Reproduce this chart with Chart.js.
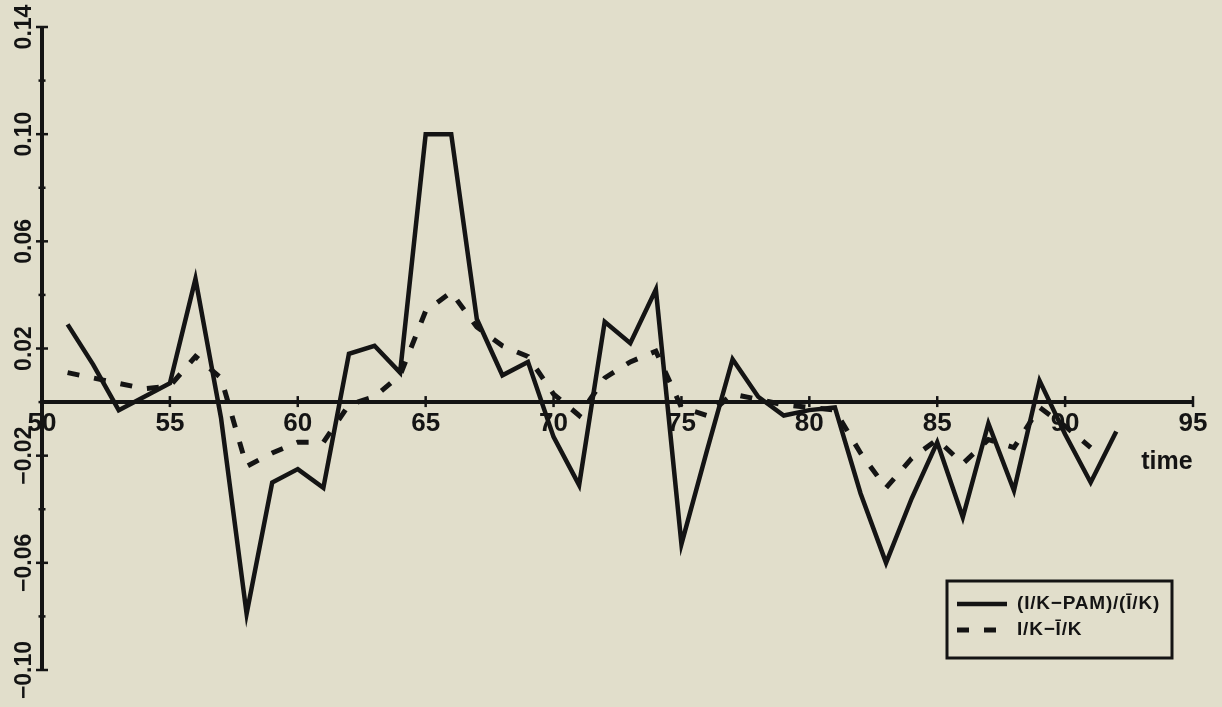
<!DOCTYPE html>
<html>
<head>
<meta charset="utf-8">
<title>I/K deviations over time</title>
<script src="https://cdn.jsdelivr.net/npm/chart.js@4/dist/chart.umd.min.js"></script>
<style>
  html, body { margin: 0; padding: 0; background: #e1decb; }
  #wrap { position: relative; width: 1222px; height: 707px; }
</style>
</head>
<body>
<div id="wrap"><canvas id="chart"></canvas></div>
<script>
// Years on the horizontal axis
const years = [51, 52, 53, 54, 55, 56, 57, 58, 59, 60,
               61, 62, 63, 64, 65, 66, 67, 68, 69, 70,
               71, 72, 73, 74, 75, 76, 77, 78, 79, 80,
               81, 82, 83, 84, 85, 86, 87, 88, 89, 90,
               91, 92];

// (I/K - PAM) / (mean I/K), solid line
const relDeviation = [0.029, 0.014, -0.003, 0.002, 0.007, 0.046, -0.006, -0.079, -0.030, -0.025,
                      -0.032, 0.018, 0.021, 0.011, 0.100, 0.100, 0.031, 0.010, 0.015, -0.013,
                      -0.031, 0.030, 0.022, 0.042, -0.053, -0.018, 0.016, 0.002, -0.005, -0.003,
                      -0.002, -0.034, -0.060, -0.036, -0.015, -0.043, -0.008, -0.033, 0.008, -0.012,
                      -0.030, -0.011];

// I/K - mean I/K, dashed line (ends one year earlier)
const absDeviation = [0.011, 0.009, 0.007, 0.005, 0.006, 0.017, 0.009, -0.024, -0.019, -0.015,
                      -0.015, -0.001, 0.002, 0.010, 0.034, 0.041, 0.028, 0.021, 0.017, 0.003,
                      -0.005, 0.009, 0.015, 0.019, -0.002, -0.005, 0.003, 0.001, -0.001, -0.002,
                      -0.003, -0.019, -0.032, -0.021, -0.014, -0.023, -0.014, -0.017, -0.002, -0.009,
                      -0.017];

const seriesNames = ['(I/K\u2212PAM)/(\u012A/K)', 'I/K\u2212\u012A/K'];

// Axis ticks and their labels
const xTicks = [50, 55, 60, 65, 70, 75, 80, 85, 90, 95];
const xTickLabels = ['50', '55', '60', '65', '70', '75', '80', '85', '90', '95'];
const yTicks = [-0.10, -0.08, -0.06, -0.04, -0.02, 0, 0.02, 0.04, 0.06, 0.08, 0.10, 0.12, 0.14];
const yMajorTicks = [-0.10, -0.06, -0.02, 0.02, 0.06, 0.10, 0.14];
const yTickLabels = ['\u22120.10', '\u22120.06', '\u22120.02', '0.02', '0.06', '0.10', '0.14'];
const xTitle = 'time';

const INK = '#141414';
const PAPER = '#e1decb';

function toPoints(xs, ys) {
  return ys.map((v, i) => ({ x: xs[i], y: v }));
}

// Paper background
const paperPlugin = {
  id: 'paper',
  beforeDraw(chart) {
    const { ctx, width, height } = chart;
    ctx.save();
    ctx.fillStyle = PAPER;
    ctx.fillRect(0, 0, width, height);
    ctx.restore();
  }
};

// Axes crossing at (50, 0) with ticks running through the axis lines
const crossAxesPlugin = {
  id: 'crossAxes',
  beforeDatasetsDraw(chart) {
    const { ctx, scales: { x, y } } = chart;
    const ax = x.getPixelForValue(xTicks[0]);
    const ay = y.getPixelForValue(0);
    const xEnd = x.getPixelForValue(xTicks[xTicks.length - 1]);
    const yTop = y.getPixelForValue(yTicks[yTicks.length - 1]);
    const yBot = y.getPixelForValue(yTicks[0]);

    ctx.save();
    ctx.strokeStyle = INK;
    ctx.fillStyle = INK;
    ctx.lineCap = 'butt';

    // axis lines
    ctx.lineWidth = 4;
    ctx.beginPath();
    ctx.moveTo(ax, yTop);
    ctx.lineTo(ax, yBot);
    ctx.moveTo(ax, ay);
    ctx.lineTo(xEnd, ay);
    ctx.stroke();

    // y ticks
    ctx.lineWidth = 2.5;
    yTicks.forEach(v => {
      const py = y.getPixelForValue(v);
      const major = yMajorTicks.some(m => Math.abs(m - v) < 1e-9);
      const half = major ? 6 : 3.5;
      ctx.beginPath();
      ctx.moveTo(ax - half, py);
      ctx.lineTo(ax + half, py);
      ctx.stroke();
    });

    // x ticks
    xTicks.forEach(v => {
      const px = x.getPixelForValue(v);
      ctx.beginPath();
      ctx.moveTo(px, ay - 6);
      ctx.lineTo(px, ay + 5);
      ctx.stroke();
    });

    // x tick labels
    ctx.font = 'bold 26px "Liberation Sans", Arial, sans-serif';
    ctx.textAlign = 'center';
    ctx.textBaseline = 'middle';
    xTicks.forEach((v, i) => {
      ctx.fillText(xTickLabels[i], x.getPixelForValue(v), ay + 22);
    });

    // y tick labels, reading upwards
    ctx.font = 'bold 23px "Liberation Sans", Arial, sans-serif';
    yMajorTicks.forEach((v, i) => {
      ctx.save();
      ctx.translate(ax - 17, y.getPixelForValue(v));
      ctx.rotate(-Math.PI / 2);
      ctx.fillText(yTickLabels[i], 0, 0);
      ctx.restore();
    });

    // x axis title
    ctx.font = 'bold 25px "Liberation Sans", Arial, sans-serif';
    ctx.fillText(xTitle, xEnd - 26, ay + 60);
    ctx.restore();
  }
};

// Boxed key in the lower right
const keyPlugin = {
  id: 'boxedKey',
  afterDatasetsDraw(chart) {
    const { ctx, chartArea } = chart;
    const left = chartArea.right - 246;
    const top = chartArea.bottom - 89;
    const w = 225, h = 77;
    ctx.save();
    ctx.strokeStyle = INK;
    ctx.fillStyle = PAPER;
    ctx.lineWidth = 3;
    ctx.fillRect(left, top, w, h);
    ctx.strokeRect(left, top, w, h);
    ctx.fillStyle = INK;
    ctx.font = 'bold 19px "Liberation Sans", Arial, sans-serif';
    ctx.letterSpacing = '0.8px';
    ctx.textAlign = 'left';
    ctx.textBaseline = 'middle';
    chart.data.datasets.forEach((ds, i) => {
      const cy = top + 23 + i * 26;
      ctx.save();
      ctx.lineWidth = ds.borderWidth;
      ctx.strokeStyle = ds.borderColor;
      ctx.setLineDash(ds.borderDash || []);
      ctx.beginPath();
      ctx.moveTo(left + 10, cy);
      ctx.lineTo(left + 60, cy);
      ctx.stroke();
      ctx.restore();
      ctx.fillText(ds.label, left + 70, cy);
    });
    ctx.restore();
  }
};

new Chart(document.getElementById('chart'), {
  type: 'line',
  data: {
    datasets: [
      {
        label: seriesNames[0],
        data: toPoints(years, relDeviation),
        borderColor: INK,
        borderWidth: 4.5,
        pointRadius: 0,
        tension: 0,
        fill: false
      },
      {
        label: seriesNames[1],
        data: toPoints(years, absDeviation),
        borderColor: INK,
        borderWidth: 5,
        borderDash: [12, 15],
        pointRadius: 0,
        tension: 0,
        fill: false
      }
    ]
  },
  options: {
    responsive: true,
    maintainAspectRatio: false,
    animation: false,
    events: [],
    layout: { padding: { left: 42, right: 29, top: 27, bottom: 37 } },
    scales: {
      x: { type: 'linear', min: 50, max: 95, display: false },
      y: { type: 'linear', min: -0.10, max: 0.14, display: false }
    },
    plugins: {
      legend: { display: false },
      tooltip: { enabled: false }
    }
  },
  plugins: [paperPlugin, crossAxesPlugin, keyPlugin]
});
</script>
</body>
</html>
